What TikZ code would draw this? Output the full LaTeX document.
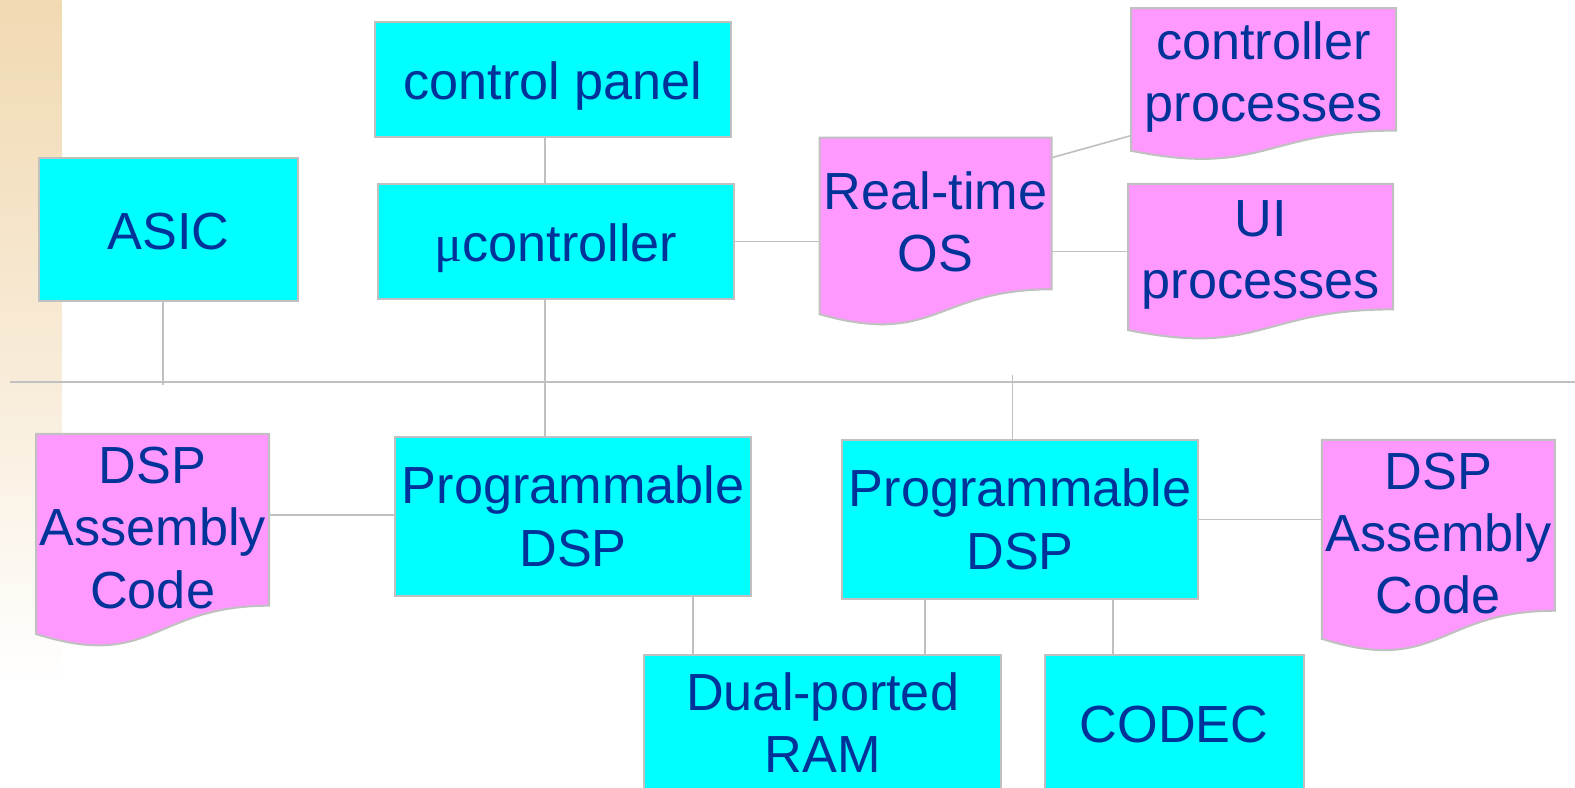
\documentclass[tikz,border=0pt]{standalone}
\usepackage{fontspec}
\setmainfont{Liberation Sans}
\newfontfamily\mufont{Liberation Serif}
\usetikzlibrary{calc}
\definecolor{txtblue}{RGB}{0,51,153}
\definecolor{boxcyan}{RGB}{0,255,255}
\definecolor{docpink}{RGB}{255,153,255}
\definecolor{edgegray}{RGB}{192,192,192}
\definecolor{bandtan}{RGB}{241,217,178}

\newcommand\boxnode[7][]{%
  \pgfmathsetmacro\bw{#5-#3}\pgfmathsetmacro\bh{#6-#4}%
  \node[boxstyle, minimum width=\bw pt, minimum height=\bh pt, #1] (#2) at ({(#3+#5)/2},{(#4+#6)/2}) {#7};}
\newcommand\docnode[6]{%
  \pgfmathsetmacro\dh{(#5-#3)/0.802}%
  \pgfmathsetmacro\dxm{(#2+#4)/2}%
  \pgfmathsetmacro\dya{#5+0.305*\dh}%
  \pgfmathsetmacro\dyb{#5+0.132*\dh}%
  \pgfmathsetmacro\bw{#4-#2}\pgfmathsetmacro\bh{#5-#3}%
  \path[docfill] (#2,#3) -- (#4,#3) -- (#4,#5) .. controls (\dxm,#5) and (\dxm,\dya) .. (#2,\dyb) -- cycle;
  \node[doctext, minimum width=\bw pt, minimum height=\bh pt] (#1) at (\dxm,{(#3+#5)/2+8}) {#6};}

\begin{document}
\begin{tikzpicture}[x=1pt,y=-1pt,
  txt/.style={text=txtblue, align=center, font=\fontsize{52}{62}\selectfont, inner sep=0pt, outer sep=0pt},
  boxstyle/.style={txt, draw=edgegray, line width=2pt, fill=boxcyan},
  oneline/.style={text height=40pt, text depth=0pt},
  docfill/.style={draw=edgegray, line width=2pt, fill=docpink},
  doctext/.style={txt},
  wire/.style={draw=edgegray, line width=1.6pt}]
\useasboundingbox (0,0) rectangle (1568,784);
\fill[white] (0,0) rectangle (1568,784);
\shade[top color=bandtan, bottom color=white, middle color=bandtan!55] (0,0) rectangle (61,680);

\boxnode[oneline]{ctrl}{373}{22}{728}{136}{control panel}
\boxnode[oneline]{asic}{39}{157}{297}{300}{ASIC}
\boxnode[oneline]{mc}{376}{183}{731}{298}{{\mufont μ}controller}
\docnode{rtos}{816}{137}{1047}{288}{Real-time\\OS}
\docnode{cproc}{1126}{8}{1390}{130}{controller\\processes}
\docnode{uiproc}{1123}{183}{1387}{308}{UI\\processes}
\docnode{asmL}{36}{432}{268}{603}{DSP\\Assembly\\Code}
\boxnode{dspA}{393}{435}{748}{593}{Programmable\\DSP}
\boxnode{dspB}{838}{438}{1193}{596}{Programmable\\DSP}
\docnode{asmR}{1316}{438}{1548}{608}{DSP\\Assembly\\Code}
\boxnode{ram}{641}{652}{997}{786}{Dual-ported\\RAM}
\boxnode[oneline]{codec}{1040}{652}{1298}{786}{CODEC}

\coordinate (busL) at (10,380);
\coordinate (busR) at (1568,380);
\draw[wire] (busL) -- (busR);

\coordinate (vA) at ($(mc.south west)!0.47!(mc.south east)$);
\draw[wire] (vA |- ctrl.south) -- (vA |- mc.north);
\draw[wire] (vA) -- (vA |- dspA.north);

\coordinate (vAsic) at ($(asic.south west)!0.477!(asic.south east)$);
\draw[wire] (vAsic) -- ($(vAsic |- busL)+(0,3)$);

\coordinate (vB) at ($(dspB.north west)!0.479!(dspB.north east)$);
\draw[wire] (vB) -- ($(vB |- busL)+(0,-7)$);

\draw[wire] (mc.east) -- (mc.east -| rtos.west);
\draw[wire] ($(rtos.north east)+(0,12)$) -- ($(cproc.south west)+(0,-3)$);
\coordinate (rtUI) at ($(rtos.east)+(0,30)$);
\draw[wire] (rtUI) -- (rtUI -| uiproc.west);

\coordinate (asmLp) at ($(asmL.east)+(0,-13)$);
\draw[wire] (asmLp) -- (asmLp -| dspA.west);
\draw[wire] (dspB.east) -- (dspB.east -| asmR.west);

\coordinate (vC) at ($(dspA.south west)!0.837!(dspA.south east)$);
\draw[wire] (vC) -- (vC |- ram.north);
\coordinate (vD) at ($(dspB.south west)!0.234!(dspB.south east)$);
\draw[wire] (vD) -- (vD |- ram.north);
\coordinate (vE) at ($(dspB.south west)!0.761!(dspB.south east)$);
\draw[wire] (vE) -- (vE |- codec.north);
\end{tikzpicture}
\end{document}
